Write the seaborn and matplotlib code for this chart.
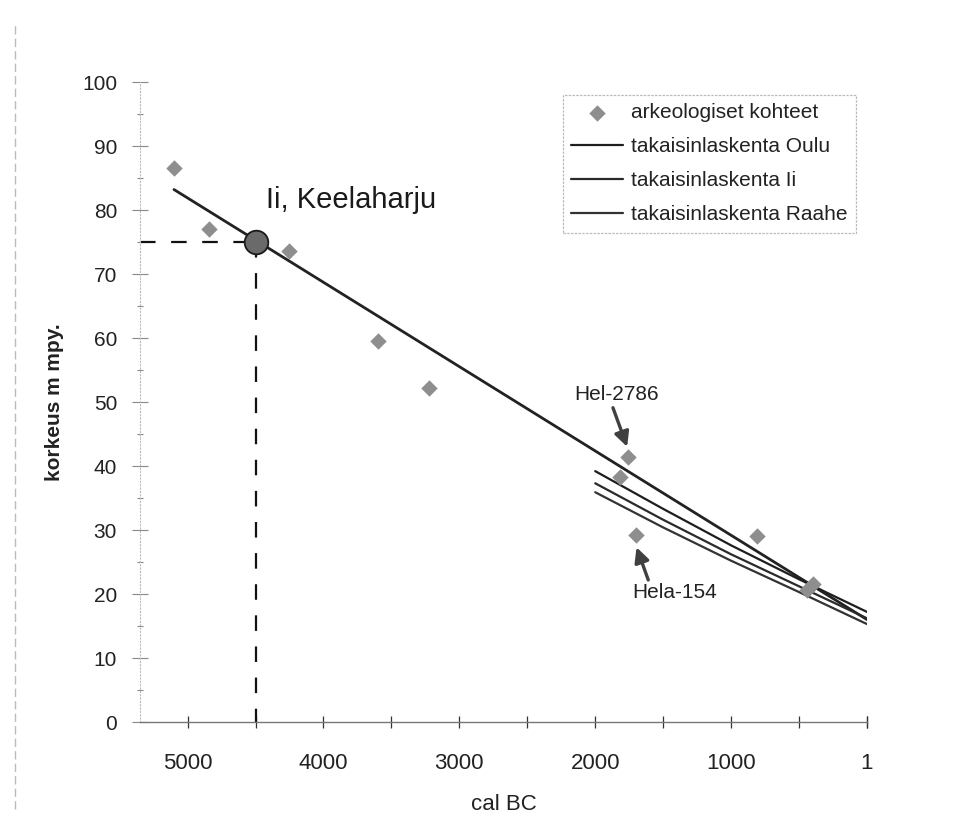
import matplotlib
matplotlib.use("Agg")
import matplotlib.pyplot as plt
from matplotlib.ticker import MultipleLocator, FixedLocator
import seaborn as sns
import pandas as pd

# ---- data ----
site_years = [5100, 4840, 4250, 3600, 3220, 1820, 1760, 1700, 810, 400, 440]
site_heights = [86.6, 77.0, 73.6, 59.5, 52.2, 38.3, 41.4, 29.2, 29.1, 21.6, 20.6]

trend_years = [5100, 0]
trend_heights = [83.2, 16.0]

calc_years = [2000, 1500, 1000, 500, 0]
oulu_heights = [39.2, 33.3, 27.6, 22.3, 17.2]
ii_heights = [37.3, 31.6, 26.2, 21.2, 16.2]
raahe_heights = [35.9, 30.4, 25.2, 20.3, 15.3]

kee_year = 4500
kee_height = 75
kee_label = "Ii, Keelaharju"

x_ticks = [5000, 4000, 3000, 2000, 1000, 1]
x_ticklabels = ["5000", "4000", "3000", "2000", "1000", "1"]
y_ticks = list(range(0, 101, 10))

sns.set_style("white")
plt.rcParams["font.family"] = ["Liberation Sans", "DejaVu Sans"]

fig = plt.figure(figsize=(9.64, 8.34), dpi=100)
ax = fig.add_axes([140 / 964, 112 / 834, (867 - 140) / 964, 640 / 834])

sites = pd.DataFrame({"year": site_years, "height": site_heights})
calc = pd.DataFrame({
    "year": calc_years * 3,
    "height": oulu_heights + ii_heights + raahe_heights,
    "series": (["takaisinlaskenta Oulu"] * len(calc_years)
               + ["takaisinlaskenta Ii"] * len(calc_years)
               + ["takaisinlaskenta Raahe"] * len(calc_years)),
})
trend = pd.DataFrame({"year": trend_years, "height": trend_heights})

ax.set_xlim(5350, 0)
ax.set_ylim(0, 100)

# trend line across whole range
sns.lineplot(data=trend, x="year", y="height", color="#222222", lw=2.0,
             ax=ax, legend=False, zorder=3)
# back-calculation lines
sns.lineplot(data=calc, x="year", y="height", hue="series",
             palette=["#1e1e1e", "#2a2a2a", "#333333"], lw=1.6, ax=ax,
             zorder=3, estimator=None, sort=False)
# archaeological sites
sns.scatterplot(data=sites, x="year", y="height", marker="D", s=70,
                color="#8e8e8e", edgecolor="#8e8e8e", linewidth=0,
                ax=ax, zorder=4, label="arkeologiset kohteet")

# dashed guide lines to Keelaharju
x0 = ax.get_xlim()[0]
ax.plot([x0, kee_year], [kee_height, kee_height], color="#111111", lw=1.6,
        dashes=(7, 7), zorder=2)
ax.plot([kee_year, kee_year], [kee_height, 0], color="#111111", lw=1.6,
        dashes=(7, 7), zorder=2)
ax.plot([kee_year], [kee_height], marker="o", ms=17, mfc="#6a6a6a",
        mec="#1a1a1a", mew=1.3, zorder=6)
ax.text(kee_year - 80, kee_height + 6.6, kee_label, fontsize=21,
        ha="left", va="center", color="#1a1a1a")

# arrows
ax.annotate("Hel-2786", xy=(1765, 43.0), xytext=(1841, 51.1),
            ha="center", va="center", fontsize=15, color="#222222",
            arrowprops=dict(arrowstyle="-|>", color="#404040", lw=2.4,
                            mutation_scale=22, shrinkA=0, shrinkB=0,
                            relpos=(0.44, 0.0)), zorder=7)
ax.annotate("Hela-154", xy=(1696, 27.3), xytext=(1414, 20.2),
            ha="center", va="center", fontsize=15, color="#222222",
            arrowprops=dict(arrowstyle="-|>", color="#404040", lw=2.4,
                            mutation_scale=22, shrinkA=0, shrinkB=0,
                            relpos=(0.2, 1.0)), zorder=7)

# axes styling
ax.xaxis.set_major_locator(FixedLocator(x_ticks))
ax.set_xticklabels(x_ticklabels)
ax.xaxis.set_minor_locator(MultipleLocator(500))
ax.set_yticks(y_ticks)
ax.yaxis.set_minor_locator(MultipleLocator(5))
ax.tick_params(axis="x", which="both", direction="inout", length=9,
               width=0.9, color="#333333", labelsize=16, pad=18,
               labelcolor="#222222", bottom=True)
ax.tick_params(axis="y", which="major", direction="inout", length=11,
               width=0.8, color="#888888", labelsize=15, pad=11,
               labelcolor="#222222", left=True)
ax.tick_params(axis="y", which="minor", direction="inout", length=5,
               width=0.8, color="#888888", left=True)

for side in ["top", "right"]:
    ax.spines[side].set_visible(False)
ax.spines["bottom"].set_color("#777777")
ax.spines["bottom"].set_linestyle((0, (2, 1)))
ax.spines["bottom"].set_linewidth(1.0)
ax.spines["left"].set_color("#bbbbbb")
ax.spines["left"].set_linestyle((0, (1, 2)))
ax.spines["left"].set_linewidth(0.8)

ax.set_xlabel("cal BC", fontsize=16, labelpad=14, color="#222222")
ax.set_ylabel("korkeus m mpy.", fontsize=15, labelpad=13,
              fontweight="bold", color="#222222")

# legend
handles, labels = ax.get_legend_handles_labels()
order = ["arkeologiset kohteet", "takaisinlaskenta Oulu",
         "takaisinlaskenta Ii", "takaisinlaskenta Raahe"]
hmap = dict(zip(labels, handles))
leg = ax.legend([hmap[k] for k in order], order, loc="upper left",
                bbox_to_anchor=(563 / 964, 1 - 95 / 834),
                bbox_transform=fig.transFigure, borderaxespad=0,
                fontsize=15, handlelength=2.5, handletextpad=0.35,
                labelspacing=0.72, borderpad=0.4, frameon=True,
                fancybox=False, markerscale=1.0)
leg.get_frame().set_edgecolor("#aaaaaa")
leg.get_frame().set_linewidth(0.9)
leg.get_frame().set_linestyle((0, (2, 1)))
for t in leg.get_texts():
    t.set_color("#222222")

# scan page border on the left
fig.add_artist(plt.Line2D([0.016, 0.016], [0.03, 0.97],
                          transform=fig.transFigure, color="#bbbbbb",
                          lw=1.0, ls=(0, (6, 3))))

fig.savefig("out.png", dpi=100, facecolor="white")
